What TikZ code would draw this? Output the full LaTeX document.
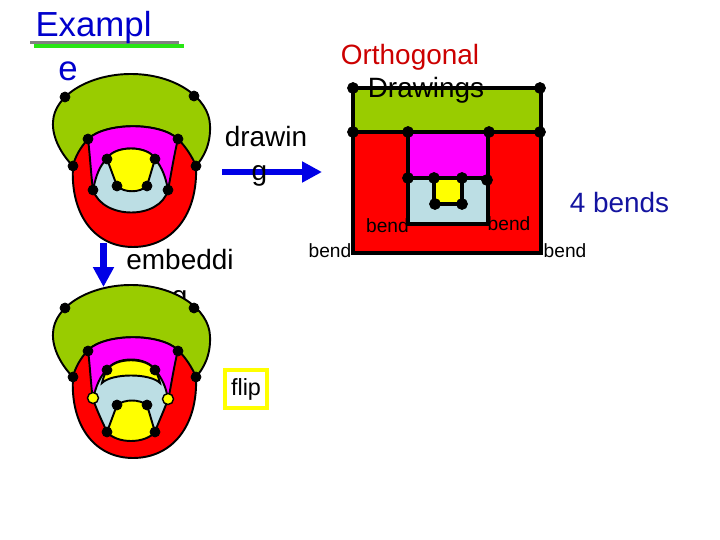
\documentclass[tikz,border=0pt]{standalone}
\usepackage{fontspec}
\setmainfont{Liberation Sans}
\usetikzlibrary{arrows.meta}

\definecolor{facegreen}{RGB}{153,204,0}
\definecolor{facered}{RGB}{255,0,0}
\definecolor{facepink}{RGB}{255,0,255}
\definecolor{faceblue}{RGB}{188,222,228}
\definecolor{faceyellow}{RGB}{255,255,0}
\definecolor{arrowblue}{RGB}{0,0,230}
\definecolor{titleblue}{RGB}{0,0,204}
\definecolor{titlered}{RGB}{204,0,0}
\definecolor{navy}{RGB}{20,20,160}
\definecolor{lineshade}{RGB}{128,128,128}
\definecolor{linegreen}{RGB}{40,230,20}

% green, red and pink faces of the embedding
\newcommand{\outerfaces}{%
\draw[face,fill=facegreen] (73,166) .. controls (62,155) and (52,138) .. (53,122)
  .. controls (54,95) and (90,74) .. (131,74) .. controls (175,74) and (209,98) .. (210,125)
  .. controls (211,145) and (203,158) .. (196,166) -- cycle;
\draw[face,fill=facered] (88,139) .. controls (80,148) and (75,157) .. (73,166)
  .. controls (70,215) and (95,247) .. (133,247) .. controls (172,247) and (198,215) .. (196,166)
  .. controls (192,156) and (185,146) .. (178,139) .. controls (160,122) and (106,122) .. (88,139) -- cycle;
\draw[face,fill=facepink] (88,139) .. controls (106,122) and (160,122) .. (178,139)
  .. controls (174,155) and (171,175) .. (168,190) -- (93,190)
  .. controls (91,175) and (90,155) .. (88,139) -- cycle;
}

\begin{document}
\begin{tikzpicture}[x=0.02cm,y=-0.02cm]
\tikzstyle{vertex}=[circle,draw,fill=black,inner sep=0pt,minimum size=0.2cm]
\tikzstyle{bigvertex}=[vertex,minimum size=0.22cm]
\tikzstyle{yvertex}=[vertex,fill=faceyellow,line width=0.8pt,minimum size=0.22cm]
\tikzstyle{face}=[draw=black,line width=1.1pt]
\tikzstyle{box}=[draw=black,line width=2pt]
\tikzstyle{bigtext}=[inner sep=0pt,anchor=base,font=\fontsize{19.8pt}{24pt}\selectfont]
\tikzstyle{midtext}=[inner sep=0pt,anchor=base,font=\fontsize{15.9pt}{19pt}\selectfont]
\tikzstyle{smalltext}=[inner sep=0pt,anchor=base,font=\fontsize{10.9pt}{13pt}\selectfont]
\tikzstyle{bluearrow}=[arrowblue,line width=3.6pt,-{Triangle[length=11.3pt,width=11.3pt]}]
\path[fill=white,use as bounding box] (0,0) rectangle (720,540);

% title
\draw[linegreen,line width=2.2pt] (34,46) -- (184,46);
\draw[lineshade,line width=2.2pt] (30,42.5) -- (179,42.5);
\node (title1) [bigtext,titleblue] at (93.5,37) {Exampl};
\node (title2) [bigtext,titleblue] at (68,81) {e};

% embedding
\outerfaces
\draw[face,fill=faceblue] (93,190) .. controls (96,175) and (100,165) .. (107,159)
  .. controls (115,145) and (147,145) .. (155,159) .. controls (162,167) and (166,178) .. (168,190)
  .. controls (160,220) and (103,220) .. (93,190) -- cycle;
\draw[face,fill=faceyellow] (107,159) .. controls (113,145) and (149,145) .. (155,159)
  -- (147,186) .. controls (140,193) and (124,193) .. (117,186) -- cycle;
\node (u1) [vertex] at (65,97) {};
\node (u2) [vertex] at (194,96) {};
\node (u3) [vertex] at (73,166) {};
\node (u4) [vertex] at (196,166) {};
\node (u5) [vertex] at (88,139) {};
\node (u6) [vertex] at (178,139) {};
\node (u7) [vertex] at (107,159) {};
\node (u8) [vertex] at (155,159) {};
\node (u9) [vertex] at (117,186) {};
\node (u10) [vertex] at (147,186) {};
\node (u11) [vertex] at (93,190) {};
\node (u12) [vertex] at (168,190) {};

% drawing arrow
\coordinate (drawfrom) at (222,172);
\coordinate (drawto) at (322,172);
\draw[bluearrow] (drawfrom) -- (drawto);
\node (draw1) [midtext] at (266,147) {drawin};
\node (draw2) [midtext] at (259.5,181) {g};

% embedding arrow
\node (emb1) [midtext] at (180,270) {embeddi};
\node (emb2) [midtext] at (172,306) {ng};
\coordinate (embfrom) at (103.5,243);
\coordinate (embto) at (103.5,287);

% flipped embedding
\begin{scope}[shift={(0,211)}]
\outerfaces
\draw[face,fill=faceblue] (93,188) .. controls (96,175) and (100,165) .. (107,159)
  .. controls (115,145) and (147,145) .. (155,159) .. controls (162,167) and (166,176) .. (168,188)
  .. controls (164,200) and (158,212) .. (155,221) .. controls (145,232) and (117,232) .. (107,221)
  .. controls (103,212) and (97,200) .. (93,188) -- cycle;
\draw[face,fill=faceyellow] (107,159) .. controls (115,146) and (147,146) .. (155,159)
  .. controls (157,163) and (159,167) .. (160,172) .. controls (150,162) and (112,162) .. (102,172)
  .. controls (103,167) and (105,163) .. (107,159) -- cycle;
\draw[face,fill=faceyellow] (117,194) .. controls (125,188) and (139,188) .. (147,194)
  -- (155,221) .. controls (145,233) and (117,233) .. (107,221) -- cycle;
\node (w1) [vertex] at (65,97) {};
\node (w2) [vertex] at (194,97) {};
\node (w3) [vertex] at (73,166) {};
\node (w4) [vertex] at (196,166) {};
\node (w5) [vertex] at (88,140) {};
\node (w6) [vertex] at (178,140) {};
\node (w7) [vertex] at (107,159) {};
\node (w8) [vertex] at (155,159) {};
\node (w9) [vertex] at (117,194) {};
\node (w10) [vertex] at (147,194) {};
\node (w11) [vertex] at (107,221) {};
\node (w12) [vertex] at (155,221) {};
\node (w13) [yvertex] at (93,187) {};
\node (w14) [yvertex] at (168,188) {};
\end{scope}
\draw[bluearrow] (embfrom) -- (embto);

\node (flipbox) [draw=faceyellow,line width=2.2pt,minimum width=0.84cm,minimum height=0.76cm,
  inner sep=0pt,font=\fontsize{13.3pt}{16pt}\selectfont] at (246,389) {flip};

% orthogonal drawing
\draw[box,fill=facered] (353,132) rectangle (541,253);
\draw[box,fill=facegreen] (353,88) rectangle (541,132);
\draw[box,fill=facepink] (408,132) rectangle (488,178);
\draw[box,fill=faceblue] (408,178) rectangle (488,224);
\draw[box,fill=faceyellow] (434,178) rectangle (462,204);
\node (r1) [bigvertex] at (353,88) {};
\node (r2) [bigvertex] at (540,88) {};
\node (r3) [bigvertex] at (353,132) {};
\node (r4) [bigvertex] at (408,132) {};
\node (r5) [bigvertex] at (489,132) {};
\node (r6) [bigvertex] at (540,132) {};
\node (r7) [bigvertex] at (408,178) {};
\node (r8) [bigvertex] at (434,178) {};
\node (r9) [bigvertex] at (462,178) {};
\node (r10) [bigvertex] at (487,180) {};
\node (r11) [bigvertex] at (435,204) {};
\node (r12) [bigvertex] at (462,204) {};
\node (ortho1) [midtext,titlered] at (410,65) {Orthogonal};
\node (ortho2) [midtext] at (426,98) {Drawings};
\node (bends) [midtext,navy] at (619.5,213) {4 bends};
\node (bend1) [smalltext] at (387.5,233) {bend};
\node (bend2) [smalltext] at (509,231) {bend};
\node (bend3) [smalltext] at (330,258) {bend};
\node (bend4) [smalltext] at (565,258) {bend};
\end{tikzpicture}
\end{document}
